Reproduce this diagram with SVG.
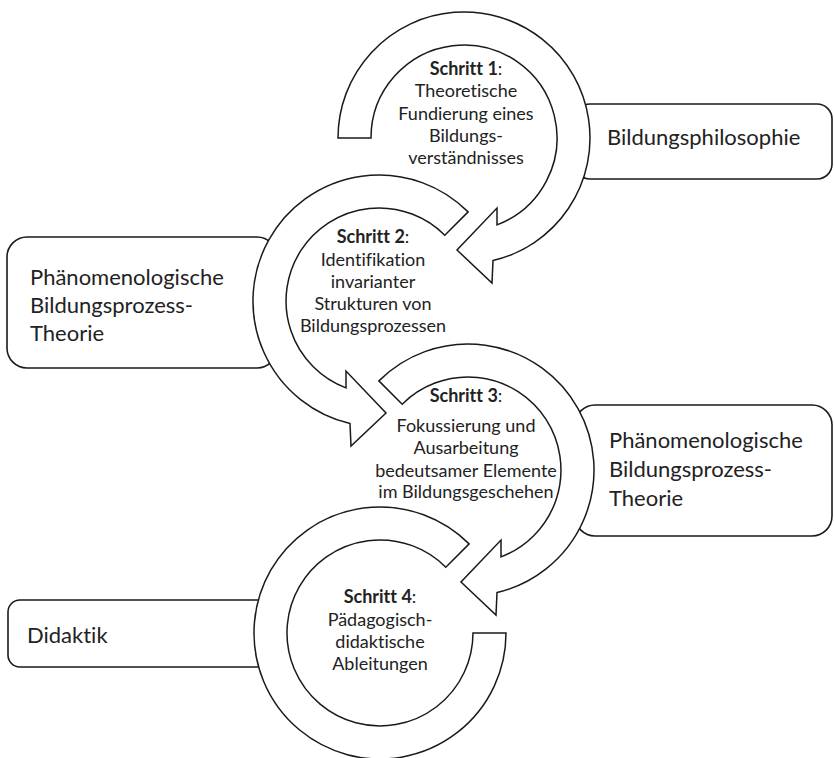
<svg xmlns="http://www.w3.org/2000/svg" width="834" height="758" viewBox="0 0 834 758">
<style>
.box{fill:#fff;stroke:#1a1a1a;stroke-width:1.6}
.ring{fill:#fff;stroke:#1a1a1a;stroke-width:1.5;stroke-linejoin:miter}
text{font-variant-ligatures:none}
.bt{font-family:Lato,"Open Sans",sans-serif;font-size:22px;fill:#222}
.ct{font-family:Lato,"Open Sans",sans-serif;font-size:18px;fill:#222;text-anchor:middle}
.s{font-weight:700}
</style>
<rect width="834" height="758" fill="#fff"/>
<g id="box-bildungsphilosophie">
<rect class="box" x="575" y="104" width="257" height="75" rx="15"/>
<text class="bt" x="607" y="145">Bildungsphilosophie</text>
</g>
<g id="box-theorie-left">
<rect class="box" x="7" y="237" width="270" height="131" rx="20"/>
<text class="bt" x="30" y="285">Phänomenologische</text>
<text class="bt" x="30" y="313">Bildungsprozess-</text>
<text class="bt" x="30" y="341">Theorie</text>
</g>
<g id="box-theorie-right">
<rect class="box" x="575" y="405" width="257" height="131" rx="20"/>
<text class="bt" x="609" y="448">Phänomenologische</text>
<text class="bt" x="609" y="477">Bildungsprozess-</text>
<text class="bt" x="609" y="506">Theorie</text>
</g>
<g id="box-didaktik">
<rect class="box" x="8" y="600" width="265" height="67" rx="12"/>
<text class="bt" x="27" y="643">Didaktik</text>
</g>
<g id="connectors">
<path class="ring" d="M338,138 A126,126 0 1 1 493,260.6 L492,283 L457,250 L497,208 L497,224.9 A93,93 0 1 0 371,138 Z"/>
<path class="ring" d="M468.1,211.9 A126,126 0 1 0 350,423.6 L351,446 L386,413 L346,371 L346,387.9 A93,93 0 1 1 444.8,235.2 Z"/>
<path class="ring" d="M378.9,380.9 A126,126 0 1 1 497,592.6 L496,615 L461,582 L501,540 L501,556.9 A93,93 0 1 0 402.2,404.2 Z"/>
<path class="ring" d="M469.1,543.9 A126,126 0 1 0 506,633 L473,633 A93,93 0 1 1 445.8,567.2 Z"/>
</g>
<g id="step1">
<text class="ct" x="466" y="75"><tspan class="s">Schritt 1</tspan>:</text>
<text class="ct" x="466" y="97">Theoretische</text>
<text class="ct" x="466" y="120">Fundierung eines</text>
<text class="ct" x="466" y="142">Bildungs-</text>
<text class="ct" x="466" y="164">verständnisses</text>
</g>
<g id="step2">
<text class="ct" x="373" y="243"><tspan class="s">Schritt 2</tspan>:</text>
<text class="ct" x="373" y="266">Identifikation</text>
<text class="ct" x="373" y="288">invarianter</text>
<text class="ct" x="373" y="310">Strukturen von</text>
<text class="ct" x="373" y="332">Bildungsprozessen</text>
</g>
<g id="step3">
<text class="ct" x="466" y="402"><tspan class="s">Schritt 3</tspan>:</text>
<text class="ct" x="466" y="432">Fokussierung und</text>
<text class="ct" x="466" y="454">Ausarbeitung</text>
<text class="ct" x="466" y="477">bedeutsamer Elemente</text>
<text class="ct" x="466" y="498">im Bildungsgeschehen</text>
</g>
<g id="step4">
<text class="ct" x="380" y="603"><tspan class="s">Schritt 4</tspan>:</text>
<text class="ct" x="380" y="626">Pädagogisch-</text>
<text class="ct" x="380" y="648">didaktische</text>
<text class="ct" x="380" y="670">Ableitungen</text>
</g>
</svg>
